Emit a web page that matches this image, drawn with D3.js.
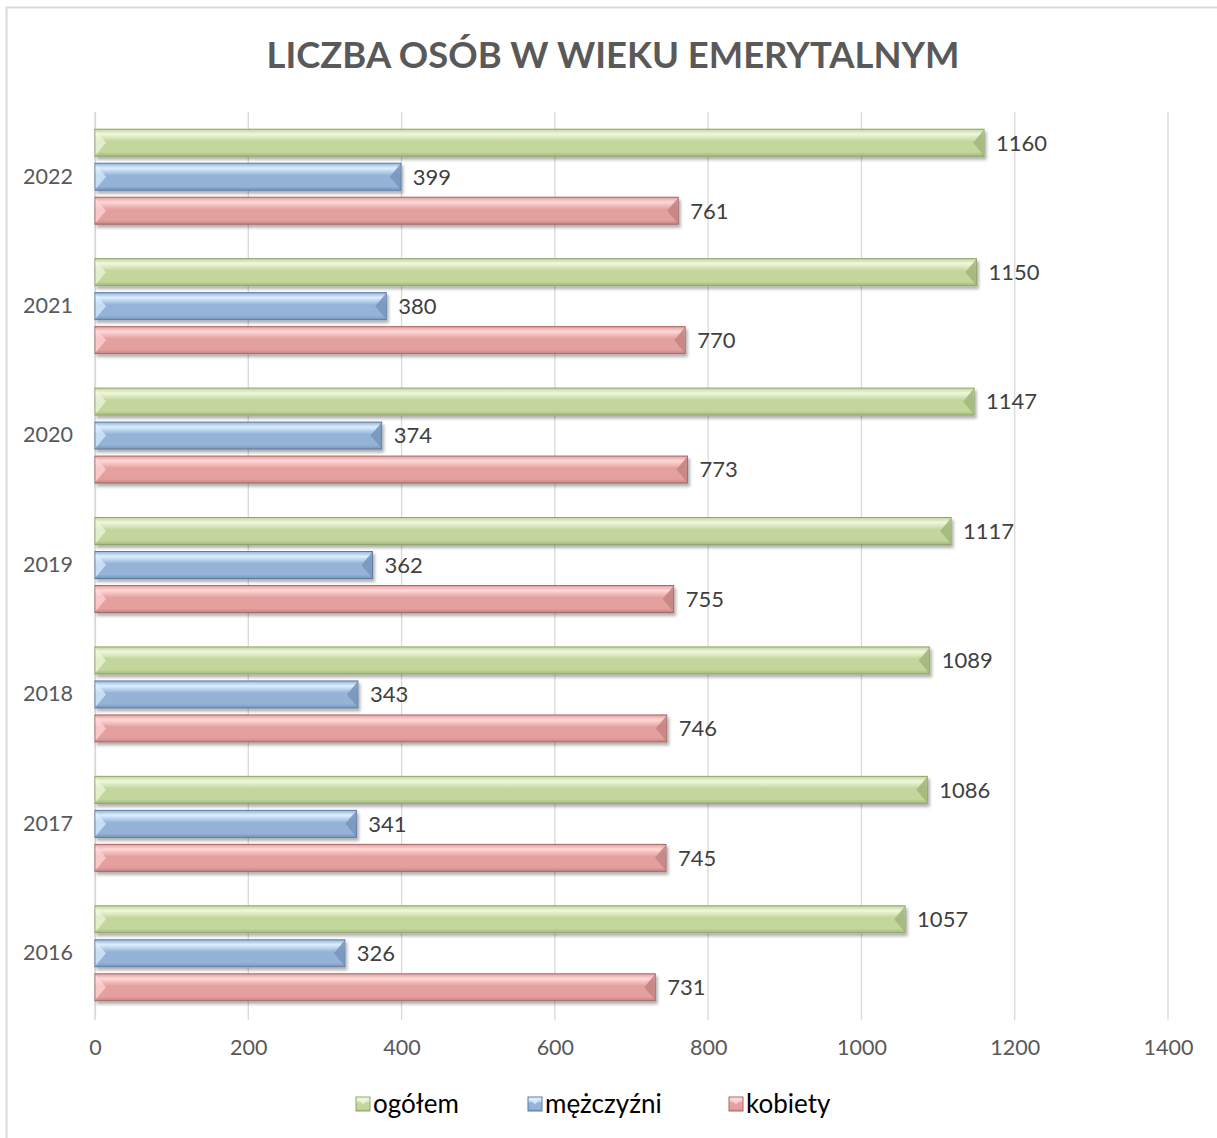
<!DOCTYPE html>
<head>
	<meta charset="UTF-8">
	<script src="https://d3js.org/d3.v7.min.js"></script>
	<style>
		body { margin: 0; background: #fff; }
		text { font-family: Lato, "Open Sans", sans-serif; }
	</style>
</head>
<body>
	<div id="chart"></div>
<script>

// data
const years = ["2022", "2021", "2020", "2019", "2018", "2017", "2016"];
const seriesNames = ["ogółem", "mężczyźni", "kobiety"];
const ogolem = [1160, 1150, 1147, 1117, 1089, 1086, 1057];
const mezczyzni = [399, 380, 374, 362, 343, 341, 326];
const kobiety = [761, 770, 773, 755, 746, 745, 731];
const xTicks = [0, 200, 400, 600, 800, 1000, 1200, 1400];

const width = 1217, height = 1138;

// colours for each series: base, light top, dark bottom, outline
const palette = {
  "ogółem":    {base: "#c3d69b", light: "#f0f7de", dark: "#a3b87c", edge: "#8fa56a"},
  "mężczyźni": {base: "#95b3d7", light: "#dcefff", dark: "#7896bf", edge: "#5d7aa3"},
  "kobiety":   {base: "#e3a09e", light: "#ffd8d8", dark: "#c58482", edge: "#a56866"}
};

const rows = years.map((y, i) => ({
  year: y,
  values: [
    {key: "ogółem", value: ogolem[i]},
    {key: "mężczyźni", value: mezczyzni[i]},
    {key: "kobiety", value: kobiety[i]}
  ]
}));

const svg = d3.select("#chart").append("svg")
  .attr("width", width)
  .attr("height", height);

const defs = svg.append("defs");

defs.append("filter")
  .attr("id", "shadow")
  .attr("x", "-5%").attr("y", "-40%").attr("width", "110%").attr("height", "200%")
  .append("feDropShadow")
  .attr("dx", 2).attr("dy", 3).attr("stdDeviation", 1.6)
  .attr("flood-color", "#000").attr("flood-opacity", 0.3);

seriesNames.forEach((s, i) => {
  const c = palette[s];
  const g = defs.append("linearGradient")
    .attr("id", "grad" + i)
    .attr("x1", 0).attr("y1", 0).attr("x2", 0).attr("y2", 1);
  g.append("stop").attr("offset", "0%").attr("stop-color", c.base);
  g.append("stop").attr("offset", "18%").attr("stop-color", c.light);
  g.append("stop").attr("offset", "45%").attr("stop-color", c.base);
  g.append("stop").attr("offset", "85%").attr("stop-color", c.base);
  g.append("stop").attr("offset", "100%").attr("stop-color", c.dark);
});

// chart frame
svg.append("rect")
  .attr("x", 6.5).attr("y", 7.5)
  .attr("width", width).attr("height", height)
  .attr("fill", "none")
  .attr("stroke", "#d9d9d9")
  .attr("stroke-width", 2);

const margin = {top: 112, right: 49, bottom: 120, left: 95};
const plotBottom = 1018;

const x = d3.scaleLinear()
  .domain([0, 1400])
  .range([margin.left, width - margin.right]);

const y0 = d3.scaleBand()
  .domain(years)
  .range([margin.top, plotBottom])
  .paddingInner(0.266)
  .paddingOuter(0.133);

const y1 = d3.scaleBand()
  .domain(seriesNames)
  .range([0, y0.bandwidth()])
  .paddingInner(0.206);

// title
svg.append("text")
  .attr("x", 613)
  .attr("y", 68)
  .attr("text-anchor", "middle")
  .attr("fill", "#595959")
  .attr("font-size", 37)
  .attr("font-weight", "bold")
  .attr("textLength", 693)
  .attr("lengthAdjust", "spacingAndGlyphs")
  .text("LICZBA OSÓB W WIEKU EMERYTALNYM");

// gridlines
svg.append("g")
  .selectAll("line")
  .data(xTicks)
  .join("line")
  .attr("x1", d => x(d)).attr("x2", d => x(d))
  .attr("y1", margin.top).attr("y2", plotBottom + 2)
  .attr("stroke", "#d9d9d9")
  .attr("stroke-width", 1.3);

// x axis
const xAxis = svg.append("g")
  .attr("transform", `translate(0,${plotBottom})`)
  .call(d3.axisBottom(x).tickValues(xTicks).tickFormat(d3.format("d")).tickSize(0).tickPadding(22));
xAxis.select(".domain").remove();
xAxis.selectAll("text")
  .attr("fill", "#595959")
  .attr("font-size", 21.5)
  .style("font-family", "Lato, 'Open Sans', sans-serif");

// y axis
const yAxis = svg.append("g")
  .attr("transform", `translate(${margin.left},0)`)
  .call(d3.axisLeft(y0).tickSize(0).tickPadding(22));
yAxis.select(".domain").attr("stroke", "#d9d9d9").attr("stroke-width", 1.3);
yAxis.selectAll("text")
  .attr("fill", "#595959")
  .attr("font-size", 21.5)
  .style("font-family", "Lato, 'Open Sans', sans-serif");

// bars
const group = svg.append("g")
  .selectAll("g")
  .data(rows)
  .join("g")
  .attr("transform", d => `translate(0,${y0(d.year)})`);

const bar = group.selectAll("g.bar")
  .data(d => d.values)
  .join("g")
  .attr("class", "bar");

const bw = y1.bandwidth();
const bev = 11;

bar.append("rect")
  .attr("x", x(0))
  .attr("y", d => y1(d.key))
  .attr("width", d => x(d.value) - x(0))
  .attr("height", bw)
  .attr("fill", d => `url(#grad${seriesNames.indexOf(d.key)})`)
  .attr("stroke", d => palette[d.key].edge)
  .attr("stroke-width", 1)
  .attr("filter", "url(#shadow)");

// left bevel (lighter chevron)
bar.append("path")
  .attr("d", d => {
    const t = y1(d.key), x0 = x(0);
    return `M${x0 + 0.5},${t + 1}L${x0 + bev},${t + bw / 2}L${x0 + 0.5},${t + bw - 1}Z`;
  })
  .attr("fill", d => palette[d.key].light)
  .attr("opacity", 0.7);

// right bevel (darker chevron)
bar.append("path")
  .attr("d", d => {
    const t = y1(d.key), xe = x(d.value);
    return `M${xe - 0.5},${t + 1}L${xe - bev},${t + bw / 2}L${xe - 0.5},${t + bw - 1}Z`;
  })
  .attr("fill", d => palette[d.key].dark)
  .attr("opacity", 0.9);

// data labels
bar.append("text")
  .attr("x", d => x(d.value) + 12)
  .attr("y", d => y1(d.key) + bw / 2)
  .attr("dy", "0.36em")
  .attr("fill", "#404040")
  .attr("font-size", 22)
  .text(d => d.value);

// legend
const legendX = [356, 528, 729];
const legend = svg.append("g")
  .selectAll("g")
  .data(seriesNames)
  .join("g")
  .attr("transform", (d, i) => `translate(${legendX[i]},1097)`);

legend.append("rect")
  .attr("width", 14).attr("height", 14)
  .attr("fill", (d, i) => `url(#grad${i})`)
  .attr("stroke", d => palette[d].edge)
  .attr("stroke-width", 1);

legend.append("path")
  .attr("d", "M0.5,0.5L7,7.5L13.5,0.5Z")
  .attr("fill", d => palette[d].light)
  .attr("opacity", 0.75);

legend.append("text")
  .attr("x", 17)
  .attr("y", 7)
  .attr("dy", "0.36em")
  .attr("fill", "#000")
  .attr("font-size", 26)
  .text(d => d);

</script>
</body>
</html>
